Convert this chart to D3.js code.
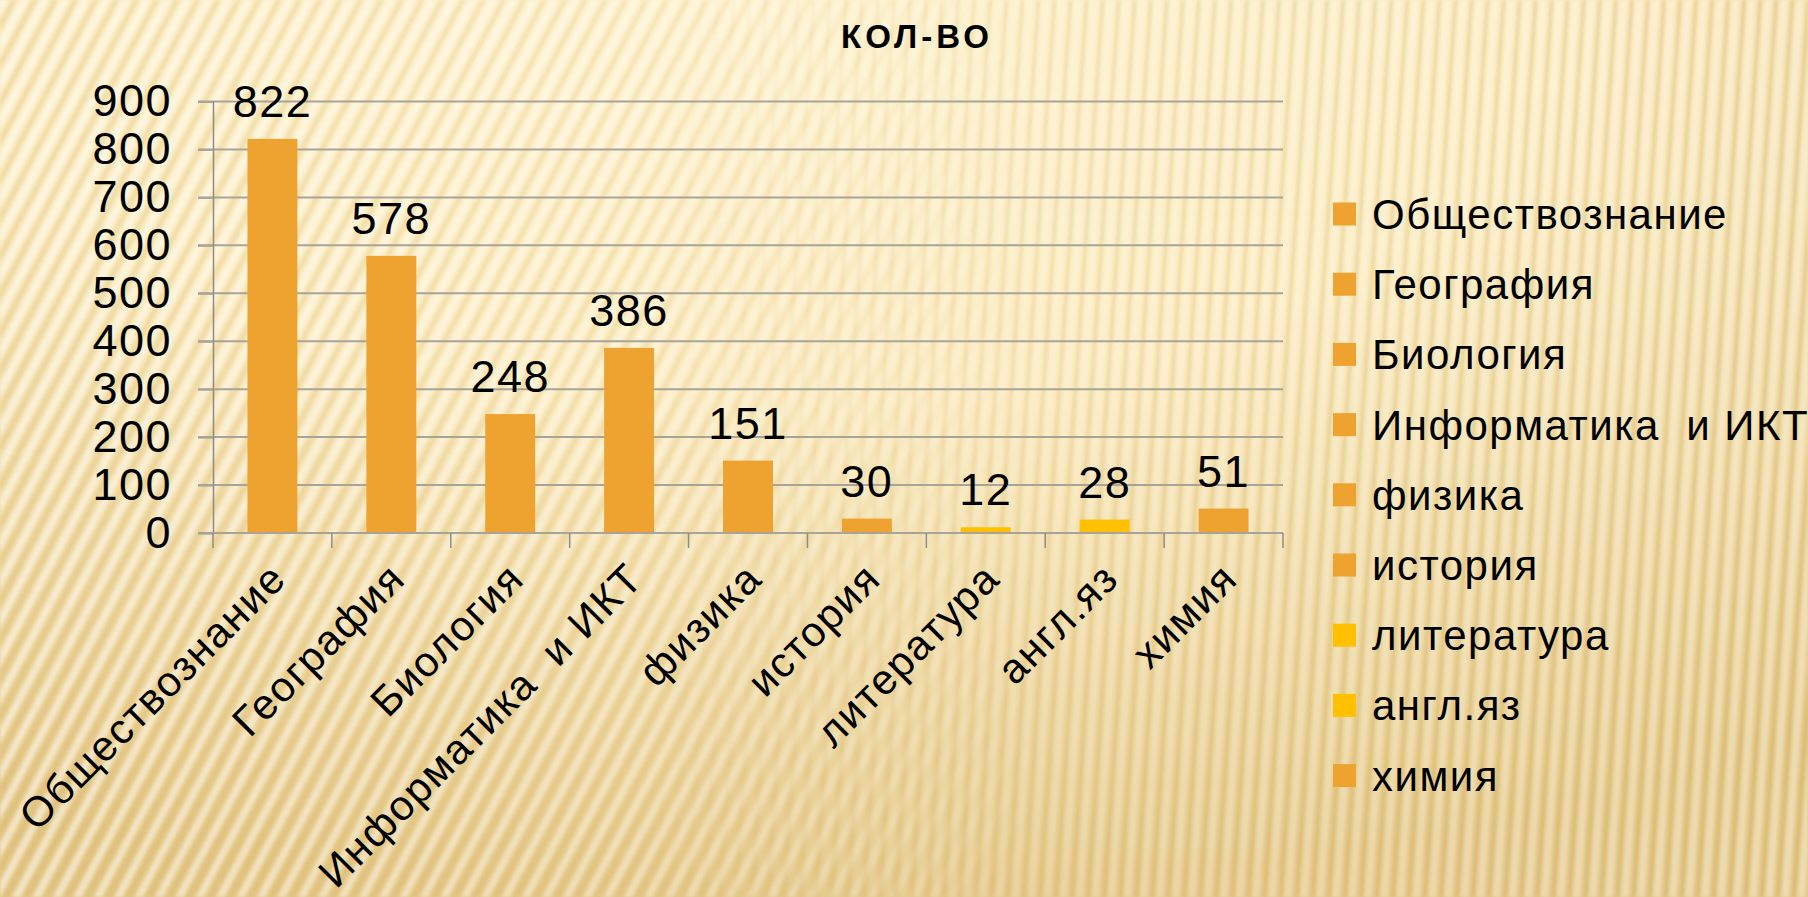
<!DOCTYPE html>
<html>
<head>
<meta charset="utf-8">
<script src="https://cdn.jsdelivr.net/npm/d3@7"></script>
<style>
  body { margin: 0; overflow: hidden; }
  svg { display: block; }
  text { font-family: "Liberation Sans", Arial, sans-serif; fill: #000; white-space: pre; }
</style>
</head>
<body>
<div class="viz"></div>
<script>
var subjects = ["Обществознание", "География", "Биология", "Информатика  и ИКТ", "физика",
                "история", "литература", "англ.яз", "химия"];
var counts = [822, 578, 248, 386, 151, 30, 12, 28, 51];
var barColors = ["#EEA22F", "#EEA22F", "#EEA22F", "#EEA22F", "#EEA22F",
                 "#EEA22F", "#FFC000", "#FFC000", "#EEA22F"];
var yTicks = [0, 100, 200, 300, 400, 500, 600, 700, 800, 900];
var title = "КОЛ-ВО";

var width = 1808, height = 897;
var plot = { left: 213, right: 1283, top: 101.5, bottom: 533 };

var svg = d3.select('.viz').append('svg')
    .attr('width', width)
    .attr('height', height);

var defs = svg.append('defs');

// background: warm radial gradient + soft striped texture
var bg = defs.append('radialGradient')
    .attr('id', 'bgGrad')
    .attr('cx', '0.42').attr('cy', '0.0').attr('r', '1.0');
bg.append('stop').attr('offset', '0').attr('stop-color', '#FEF3CD');
bg.append('stop').attr('offset', '0.45').attr('stop-color', '#FBEBBE');
bg.append('stop').attr('offset', '1').attr('stop-color', '#E5C988');

defs.append('filter').attr('id', 'soft')
    .append('feGaussianBlur').attr('stdDeviation', 1.6);

var diag = defs.append('pattern')
    .attr('id', 'diagStripes')
    .attr('patternUnits', 'userSpaceOnUse')
    .attr('width', 18).attr('height', 18)
    .attr('patternTransform', 'rotate(28)');
diag.append('rect').attr('width', 7).attr('height', 18).attr('fill', '#fff').attr('opacity', 0.5);
diag.append('rect').attr('x', 10).attr('width', 5).attr('height', 18).attr('fill', '#C9A14A').attr('opacity', 0.2);

var vert = defs.append('pattern')
    .attr('id', 'vertStripes')
    .attr('patternUnits', 'userSpaceOnUse')
    .attr('width', 16).attr('height', 16)
    .attr('patternTransform', 'rotate(4)');
vert.append('rect').attr('width', 7).attr('height', 16).attr('fill', '#fff').attr('opacity', 0.35);
vert.append('rect').attr('x', 10).attr('width', 4).attr('height', 16).attr('fill', '#B8913C').attr('opacity', 0.22);

var leftFade = defs.append('linearGradient').attr('id', 'leftFade')
    .attr('x1', '0').attr('x2', '1').attr('y1', '0').attr('y2', '0');
leftFade.append('stop').attr('offset', '0').attr('stop-color', '#fff');
leftFade.append('stop').attr('offset', '0.35').attr('stop-color', '#fff').attr('stop-opacity', 0.75);
leftFade.append('stop').attr('offset', '0.58').attr('stop-color', '#fff').attr('stop-opacity', 0);
defs.append('mask').attr('id', 'leftMask')
    .append('rect').attr('width', width).attr('height', height).attr('fill', 'url(#leftFade)');

var rightFade = defs.append('linearGradient').attr('id', 'rightFade')
    .attr('x1', '0').attr('x2', '1').attr('y1', '0').attr('y2', '0');
rightFade.append('stop').attr('offset', '0.35').attr('stop-color', '#fff').attr('stop-opacity', 0);
rightFade.append('stop').attr('offset', '0.6').attr('stop-color', '#fff').attr('stop-opacity', 0.7);
rightFade.append('stop').attr('offset', '1').attr('stop-color', '#fff');
defs.append('mask').attr('id', 'rightMask')
    .append('rect').attr('width', width).attr('height', height).attr('fill', 'url(#rightFade)');

svg.append('rect').attr('width', width).attr('height', height).attr('fill', 'url(#bgGrad)');
svg.append('rect').attr('width', width).attr('height', height)
    .attr('fill', 'url(#diagStripes)').attr('mask', 'url(#leftMask)').attr('filter', 'url(#soft)');
svg.append('rect').attr('width', width).attr('height', height)
    .attr('fill', 'url(#vertStripes)').attr('mask', 'url(#rightMask)').attr('filter', 'url(#soft)');

// scales
var x = d3.scaleBand()
    .domain(subjects)
    .range([plot.left, plot.right])
    .padding(0);

var y = d3.scaleLinear()
    .domain([0, 900])
    .range([plot.bottom, plot.top]);

var barW = x.bandwidth() * 0.42;

var g = svg.append('g');

// gridlines
g.selectAll('.grid')
    .data(yTicks.filter(function (d) { return d > 0; }))
    .enter().append('line')
    .attr('class', 'grid')
    .attr('x1', plot.left - 15).attr('x2', plot.right)
    .attr('y1', function (d) { return y(d); })
    .attr('y2', function (d) { return y(d); })
    .attr('stroke', '#A8A49A').attr('stroke-width', 2);

// y axis
var yAxis = g.append('g')
    .attr('transform', 'translate(' + plot.left + ',0)')
    .call(d3.axisLeft(y).tickValues(yTicks).tickSize(15).tickPadding(26).tickFormat(d3.format('d')));
yAxis.select('.domain').attr('stroke', '#8E8C88').attr('stroke-width', 1.5);
yAxis.selectAll('.tick line').attr('stroke', '#A8A49A').attr('stroke-width', 2);
yAxis.selectAll('.tick text')
    .attr('font-size', 45)
    .attr('letter-spacing', 1.5)
    .attr('fill', '#000')
    .attr('font-family', '"Liberation Sans", Arial, sans-serif');

// bars
g.selectAll('.bar')
    .data(subjects)
    .enter().append('rect')
    .attr('class', 'bar')
    .attr('x', function (d) { return x(d) + (x.bandwidth() - barW) / 2; })
    .attr('width', barW)
    .attr('y', function (d, i) { return y(counts[i]); })
    .attr('height', function (d, i) { return y(0) - y(counts[i]); })
    .attr('fill', function (d, i) { return barColors[i]; });

// x axis line and category ticks
var xAxis = g.append('g')
    .attr('transform', 'translate(0,' + plot.bottom + ')');
xAxis.append('line')
    .attr('x1', plot.left - 15).attr('x2', plot.right)
    .attr('stroke', '#A8A49A').attr('stroke-width', 2);
xAxis.selectAll('.xtick')
    .data(subjects.concat(['end']))
    .enter().append('line')
    .attr('class', 'xtick')
    .attr('x1', function (d, i) { return plot.left + i * x.step(); })
    .attr('x2', function (d, i) { return plot.left + i * x.step(); })
    .attr('y1', 0).attr('y2', 15)
    .attr('stroke', '#8E8C88').attr('stroke-width', 1.5);

// category labels, rotated
xAxis.selectAll('.xlabel')
    .data(subjects)
    .enter().append('text')
    .attr('class', 'xlabel')
    .attr('text-anchor', 'end')
    .attr('font-size', 42)
    .attr('letter-spacing', 1.5)
    .attr('transform', function (d) {
        return 'translate(' + (x(d) + x.bandwidth() / 2 + 16) + ',' + 48 + ') rotate(-45)';
    })
    .text(function (d) { return d; });

// value labels
g.selectAll('.vlabel')
    .data(subjects)
    .enter().append('text')
    .attr('class', 'vlabel')
    .attr('text-anchor', 'middle')
    .attr('font-size', 45)
    .attr('letter-spacing', 1.5)
    .attr('x', function (d) { return x(d) + x.bandwidth() / 2; })
    .attr('y', function (d, i) { return y(counts[i]) - 22; })
    .text(function (d, i) { return counts[i]; });

// title
svg.append('text')
    .attr('x', 917).attr('y', 48)
    .attr('text-anchor', 'middle')
    .attr('font-size', 33)
    .attr('letter-spacing', 4)
    .attr('font-weight', 'bold')
    .text(title);

// legend
var legend = svg.append('g')
    .attr('transform', 'translate(1333,214)');
var items = legend.selectAll('.item')
    .data(subjects)
    .enter().append('g')
    .attr('class', 'item')
    .attr('transform', function (d, i) { return 'translate(0,' + (i * 70.2) + ')'; });
items.append('rect')
    .attr('x', 0).attr('y', -11.5)
    .attr('width', 23).attr('height', 23)
    .attr('fill', function (d, i) { return barColors[i]; });
items.append('text')
    .attr('x', 39).attr('y', 15)
    .attr('font-size', 42)
    .attr('letter-spacing', 1.5)
    .text(function (d) { return d; });
</script>
</body>
</html>
